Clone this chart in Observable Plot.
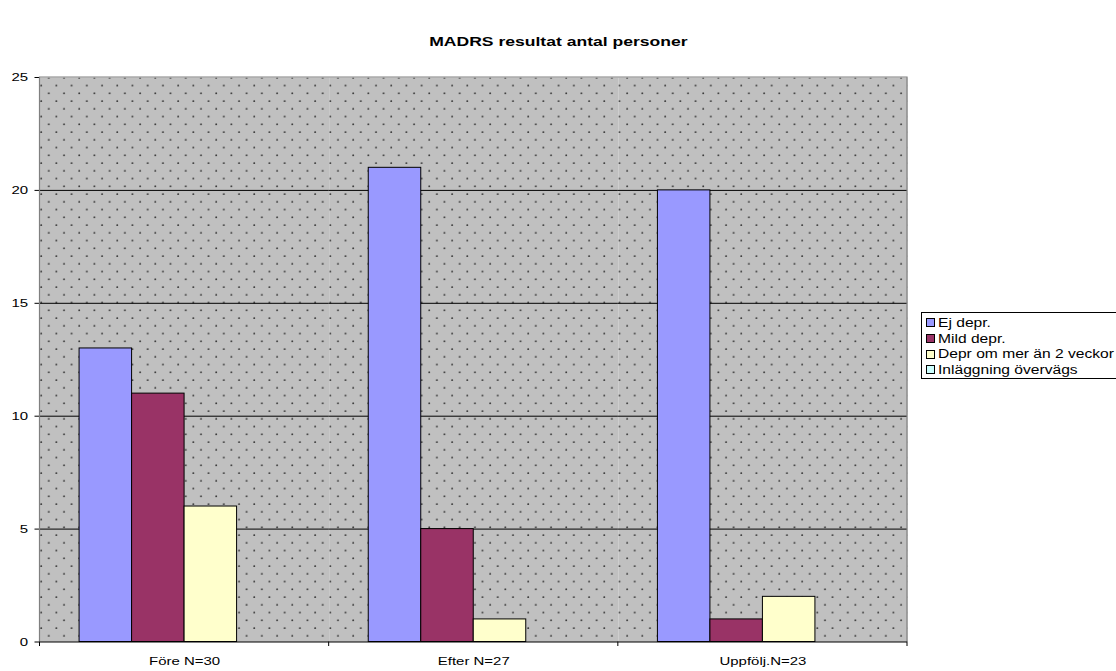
<!DOCTYPE html>
<html><head><meta charset="utf-8">
<script src="https://cdn.jsdelivr.net/npm/d3@7"></script>
<script src="https://cdn.jsdelivr.net/npm/@observablehq/plot@0.6"></script>
<style>
body{margin:0;background:#fff;font-family:Arial,"Liberation Sans",sans-serif;}
#wrap{position:relative;width:1116px;height:671px;overflow:hidden;}
#title{position:absolute;left:0;top:34px;width:1116px;text-align:center;font-weight:bold;font-size:13.5px;line-height:16px;color:#000;}
#title span{display:inline-block;transform:scaleX(1.3);transform-origin:center;}
#legend{position:absolute;left:921px;top:312px;width:260px;border:1px solid #000;background:#fff;padding:2px 0 0 4px;font-size:12px;color:#000;}
.item{display:flex;align-items:center;height:15.7px;white-space:nowrap;}
.sw{width:7px;height:7px;border:1px solid #000;margin-right:3px;flex:none;}
.item span{display:inline-block;transform:scaleX(1.3);transform-origin:left center;}
#chart{position:absolute;left:0;top:0;}
</style></head>
<body>
<div id="wrap">
  <div id="chart"></div>
  <div id="title"><span>MADRS resultat antal personer</span></div>
  <div id="legend"></div>
</div>
<script>
// ---- data ----
const categories = ["Före N=30", "Efter N=27", "Uppfölj.N=23"];
const series = ["Ej depr.", "Mild depr.", "Depr om mer än 2 veckor", "Inläggning övervägs"];
const ejDepr = [13, 21, 20];
const mildDepr = [11, 5, 1];
const deprMer = [6, 1, 2];
const inlaggning = [0, 0, 0];
const colors = ["#9999FF", "#993366", "#FFFFCC", "#CCFFFF"];
const yTicks = [0, 5, 10, 15, 20, 25];
const gridTicks = [5, 10, 15, 20];

const seriesValues = [ejDepr, mildDepr, deprMer, inlaggning];
const data = categories.flatMap((c, i) => series.map((s, j) => ({category: c, series: s, value: seriesValues[j][i]})));

// ---- layout ----
const W = 1116, H = 671, mL = 39.5, mR = 209, mT = 77, mB = 29.5;
const bandW = (W - mL - mR) / categories.length;
const STRETCH = 1.3;

const plot = Plot.plot({
  width: W, height: H,
  marginLeft: mL, marginRight: mR, marginTop: mT, marginBottom: mB,
  style: {fontFamily: "Arial, 'Liberation Sans', sans-serif", color: "#000", background: "transparent", overflow: "visible"},
  fx: {domain: categories, padding: 0, round: false, label: null},
  x: {domain: series, paddingInner: 0, paddingOuter: 0.754, round: false, axis: null},
  y: {domain: [0, 25], label: null},
  color: {domain: series, range: colors},
  marks: [
    Plot.frame({fill: "url(#dots)", stroke: "none"}),
    Plot.ruleY(gridTicks, {stroke: "#000", strokeWidth: 1}),
    Plot.barY(data, {fx: "category", x: "series", y: "value", fill: "series", stroke: "#000", strokeWidth: 1}),
    Plot.ruleY([0], {stroke: "#000", strokeWidth: 1.2}),
    Plot.axisY({ticks: yTicks, tickSize: 5, tickPadding: 7, label: null, fontSize: 11.5, stroke: "#000"}),
    Plot.axisFx({anchor: "bottom", tickSize: 0, tickPadding: 15, label: null, fontSize: 11.5})
  ]
});

const svg = d3.select(plot);
// dotted pattern (tile width divides the facet width so it stays continuous)
const pw = bandW / 19, ph = 15.5;
const defs = svg.insert("defs", ":first-child");
const pat = defs.append("pattern").attr("id", "dots").attr("patternUnits", "userSpaceOnUse")
  .attr("width", pw).attr("height", ph).attr("patternTransform", "translate(44.3,73.3)");
pat.append("rect").attr("width", pw).attr("height", ph).attr("fill", "#C0C0C0");
pat.append("circle").attr("cx", 4).attr("cy", 4).attr("r", 0.95).attr("fill", "#333");
pat.append("circle").attr("cx", 4 + pw / 2).attr("cy", 4 + ph / 2).attr("r", 0.95).attr("fill", "#333");

// plot area border (top, left, right) and category boundary ticks
const fxs = plot.scale("fx");
const band = d3.scaleBand().domain(fxs.domain).range(fxs.range).padding(0);
const x0 = band.range()[0], x1 = band.range()[1];
const yb = H - mB;
svg.append("path").attr("fill", "none").attr("stroke", "#808080").attr("stroke-width", 1.2)
  .attr("d", `M${x0},${yb}V${mT}H${x1}V${yb}`);
const bounds = categories.map(c => band(c)).concat([x1]);
svg.append("g").selectAll("line").data(bounds).join("line")
  .attr("x1", d => d).attr("x2", d => d).attr("y1", yb).attr("y2", yb + 4.5)
  .attr("stroke", "#000");

document.getElementById("chart").appendChild(plot);

// widen axis label glyphs to match the reference's stretched text
svg.selectAll("text").each(function () {
  const len = this.getComputedTextLength();
  if (len > 0) {
    this.setAttribute("textLength", len * STRETCH);
    this.setAttribute("lengthAdjust", "spacingAndGlyphs");
  }
});

// legend
const leg = d3.select("#legend");
series.forEach((s, i) => {
  const it = leg.append("div").attr("class", "item");
  it.append("div").attr("class", "sw").style("background", colors[i]);
  it.append("span").text(s);
});
</script>
</body></html>
